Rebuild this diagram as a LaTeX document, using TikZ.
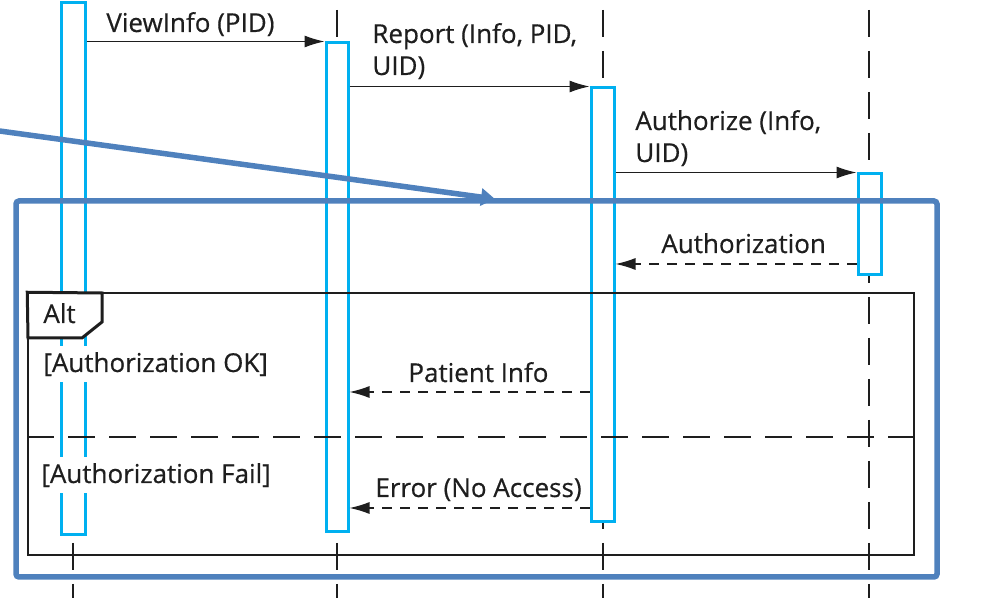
\documentclass[tikz,border=0pt]{standalone}
\usepackage{fontspec}
\setmainfont{Open Sans}
\newfontfamily\diagfont{Open Sans}[FakeBold=0.5]
\usetikzlibrary{arrows.meta, fit, positioning}

\definecolor{actblue}{HTML}{00B0F0}
\definecolor{frameblue}{HTML}{4F81BD}
\definecolor{inkgray}{HTML}{1E1E1E}

\tikzset{
  lifeline/.style={draw=inkgray, line width=0.75pt, dash pattern=on 13.5pt off 7pt, dash phase=15.5pt},
  actbox/.style={draw=actblue, line width=1.5pt, fill=white, inner sep=0pt},
  msg/.style={draw=inkgray, line width=0.6pt, -{Latex[length=10pt,width=6pt]}},
  reply/.style={msg, dash pattern=on 5pt off 4pt},
  lbl/.style={font=\diagfont\fontsize{13}{16}\selectfont, text=inkgray, inner sep=0pt, align=left},
  guard/.style={lbl, fill=white, inner sep=3pt},
  divider/.style={draw=inkgray, line width=0.6pt, dash pattern=on 13.5pt off 7pt},
}

\begin{document}
\begin{tikzpicture}[x=0.5pt, y=-0.5pt]
	\useasboundingbox (0,0) rectangle (981,598);

	% lifelines
	\foreach \x in {73,337,603,869}
		\draw[lifeline] (\x,0) -- (\x,598);

	% activations
	\node[actbox, fit={(61,3)(85,535)}] (act1) {};
	\node[actbox, fit={(326,43)(348,532)}] (act2) {};
	\node[actbox, fit={(591,88)(614,522)}] (act3) {};
	\node[actbox, fit={(858,174)(881,275)}] (act4) {};

	\coordinate (m4) at (0,264);
	\coordinate (m5) at (0,392);
	\coordinate (m6) at (0,508);
	\coordinate (split) at (0,437);

	% messages
	\draw[msg] (act1.east |- act2.north) -- (act2.north west);
	\draw[msg] (act2.east |- act3.north) -- (act3.north west);
	\draw[msg] (act3.east |- act4.north) -- (act4.north west);
	\draw[reply] (act4.west |- m4) -- (act3.east |- m4);
	\draw[reply] (act3.west |- m5) -- (act2.east |- m5);
	\draw[reply] (act3.west |- m6) -- (act2.east |- m6);

	\node[lbl, anchor=base west] (viewinfo) at (106,32) {ViewInfo (PID)};
	\node[lbl, anchor=base west] (report) at (372,75) {Report (Info, PID,\\UID)};
	\node[lbl, anchor=base west] (authorize) at (635,162) {Authorize (Info,\\UID)};
	\node[lbl, anchor=base west] (authorization) at (661,253) {Authorization};
	\node[lbl, anchor=base west] (patient) at (408,382) {Patient Info};
	\node[lbl, anchor=base west] (error) at (375,497) {Error (No Access)};

	% alt fragment
	\node[draw=inkgray, line width=0.75pt, inner sep=0pt, fit={(28,293)(914,555)}] (alt) {};
	\draw[divider] (alt.west |- split) -- (alt.east |- split);
	\draw[inkgray, line width=1.5pt, fill=white] (alt.north west) -- (102,293) -- (102,322) -- (82,338) -- (28,338) -- cycle;
	\node[lbl, anchor=base west] (altname) at (43,323) {Alt};
	\node[guard, anchor=base west] (okguard) at (37,372) {[Authorization OK]};
	\node[guard, anchor=base west] (failguard) at (35,483) {[Authorization Fail]};

	% highlight
	\node[draw=frameblue, line width=2.75pt, rounded corners=1.5pt, inner sep=0pt, fit={(16,201)(937,577)}] (focus) {};
	\coordinate (from) at (-4,130.5);
	\coordinate (tip) at (495,199);
	\draw[frameblue, line width=2.75pt, -{Triangle[length=7pt,width=8.5pt]}] (from) -- (tip);
\end{tikzpicture}
\end{document}
